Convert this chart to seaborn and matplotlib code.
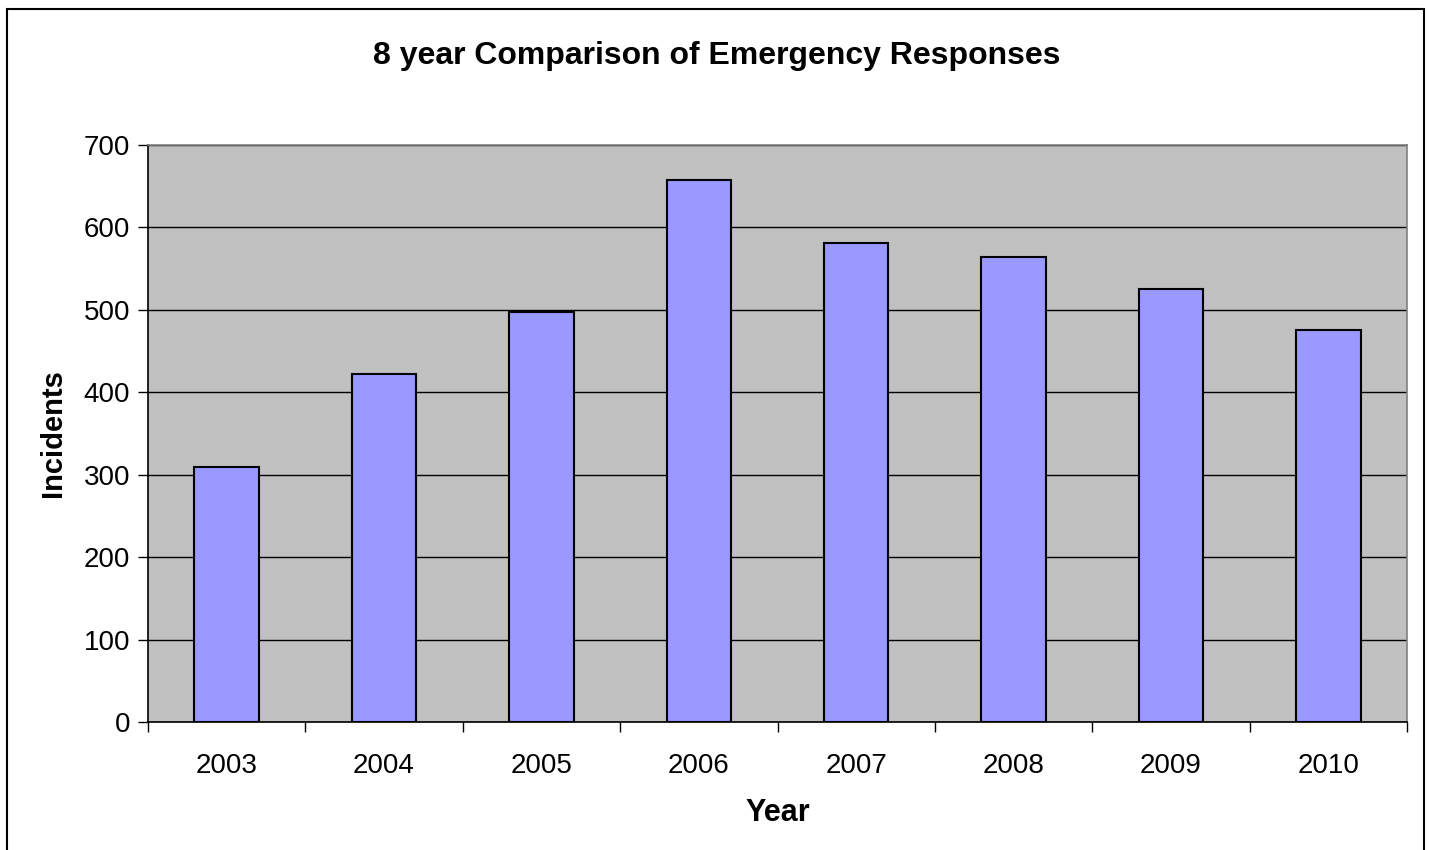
import matplotlib
matplotlib.use("Agg")
import matplotlib.pyplot as plt
import seaborn as sns
import pandas as pd
from matplotlib.patches import Rectangle

years = ["2003", "2004", "2005", "2006", "2007", "2008", "2009", "2010"]
incidents = [309, 422, 498, 658, 581, 564, 525, 476]
y_ticks = [0, 100, 200, 300, 400, 500, 600, 700]

df = pd.DataFrame({"Year": years, "Incidents": incidents})

sns.set_theme(style="white")
plt.rcParams["font.family"] = ["Liberation Sans", "DejaVu Sans"]
for key in ["text.color", "axes.labelcolor", "xtick.color", "ytick.color"]:
    plt.rcParams[key] = "black"

fig = plt.figure(figsize=(14.29, 8.5), dpi=100)
ax = fig.add_axes([148 / 1429, 1 - 722 / 850, (1407 - 148) / 1429, (722 - 145) / 850])
ax.set_facecolor("#C0C0C0")

# outer chart frame
fig.patches.append(Rectangle((7 / 1429, -0.01), (1424 - 7) / 1429, 1.01 - 9 / 850,
                             transform=fig.transFigure, fill=False,
                             edgecolor="black", linewidth=1.5, zorder=0))

sns.barplot(data=df, x="Year", y="Incidents", color="#9999FF", width=0.41,
            edgecolor="black", linewidth=1.5, saturation=1, ax=ax, zorder=3)

ax.set_ylim(0, 700)
ax.set_xlim(-0.5, len(years) - 0.5)
ax.set_yticks(y_ticks)
ax.yaxis.grid(True, color="black", linewidth=1.0, zorder=1)
ax.set_axisbelow(True)

# x ticks sit on category boundaries, labels centred under bars
ax.set_xticks([i - 0.5 for i in range(len(years) + 1)], minor=False)
ax.set_xticklabels([])
ax.set_xticks(range(len(years)), minor=True)
ax.set_xticklabels(years, minor=True)
ax.tick_params(axis="x", which="major", direction="out", length=7, width=1, color="black", bottom=True)
ax.tick_params(axis="x", which="minor", length=0, pad=22, labelsize=20)
ax.tick_params(axis="y", direction="out", length=7, width=1, color="black", left=True,
               labelsize=20, pad=6)

for s in ["left", "bottom"]:
    ax.spines[s].set_color("black")
    ax.spines[s].set_linewidth(1.2)
for s in ["top", "right"]:
    ax.spines[s].set_color("#808080")
    ax.spines[s].set_linewidth(1.2)

ax.set_xlabel("Year", fontsize=22, fontweight="bold", labelpad=14)
ax.set_ylabel("Incidents", fontsize=21, fontweight="bold", labelpad=12)

fig.text(0.5 * (372 + 1062) / 1429, 1 - 56 / 850, "8 year Comparison of Emergency Responses",
         ha="center", va="center", fontsize=23, fontweight="bold")

fig.savefig("out.png", dpi=100, facecolor="white")
